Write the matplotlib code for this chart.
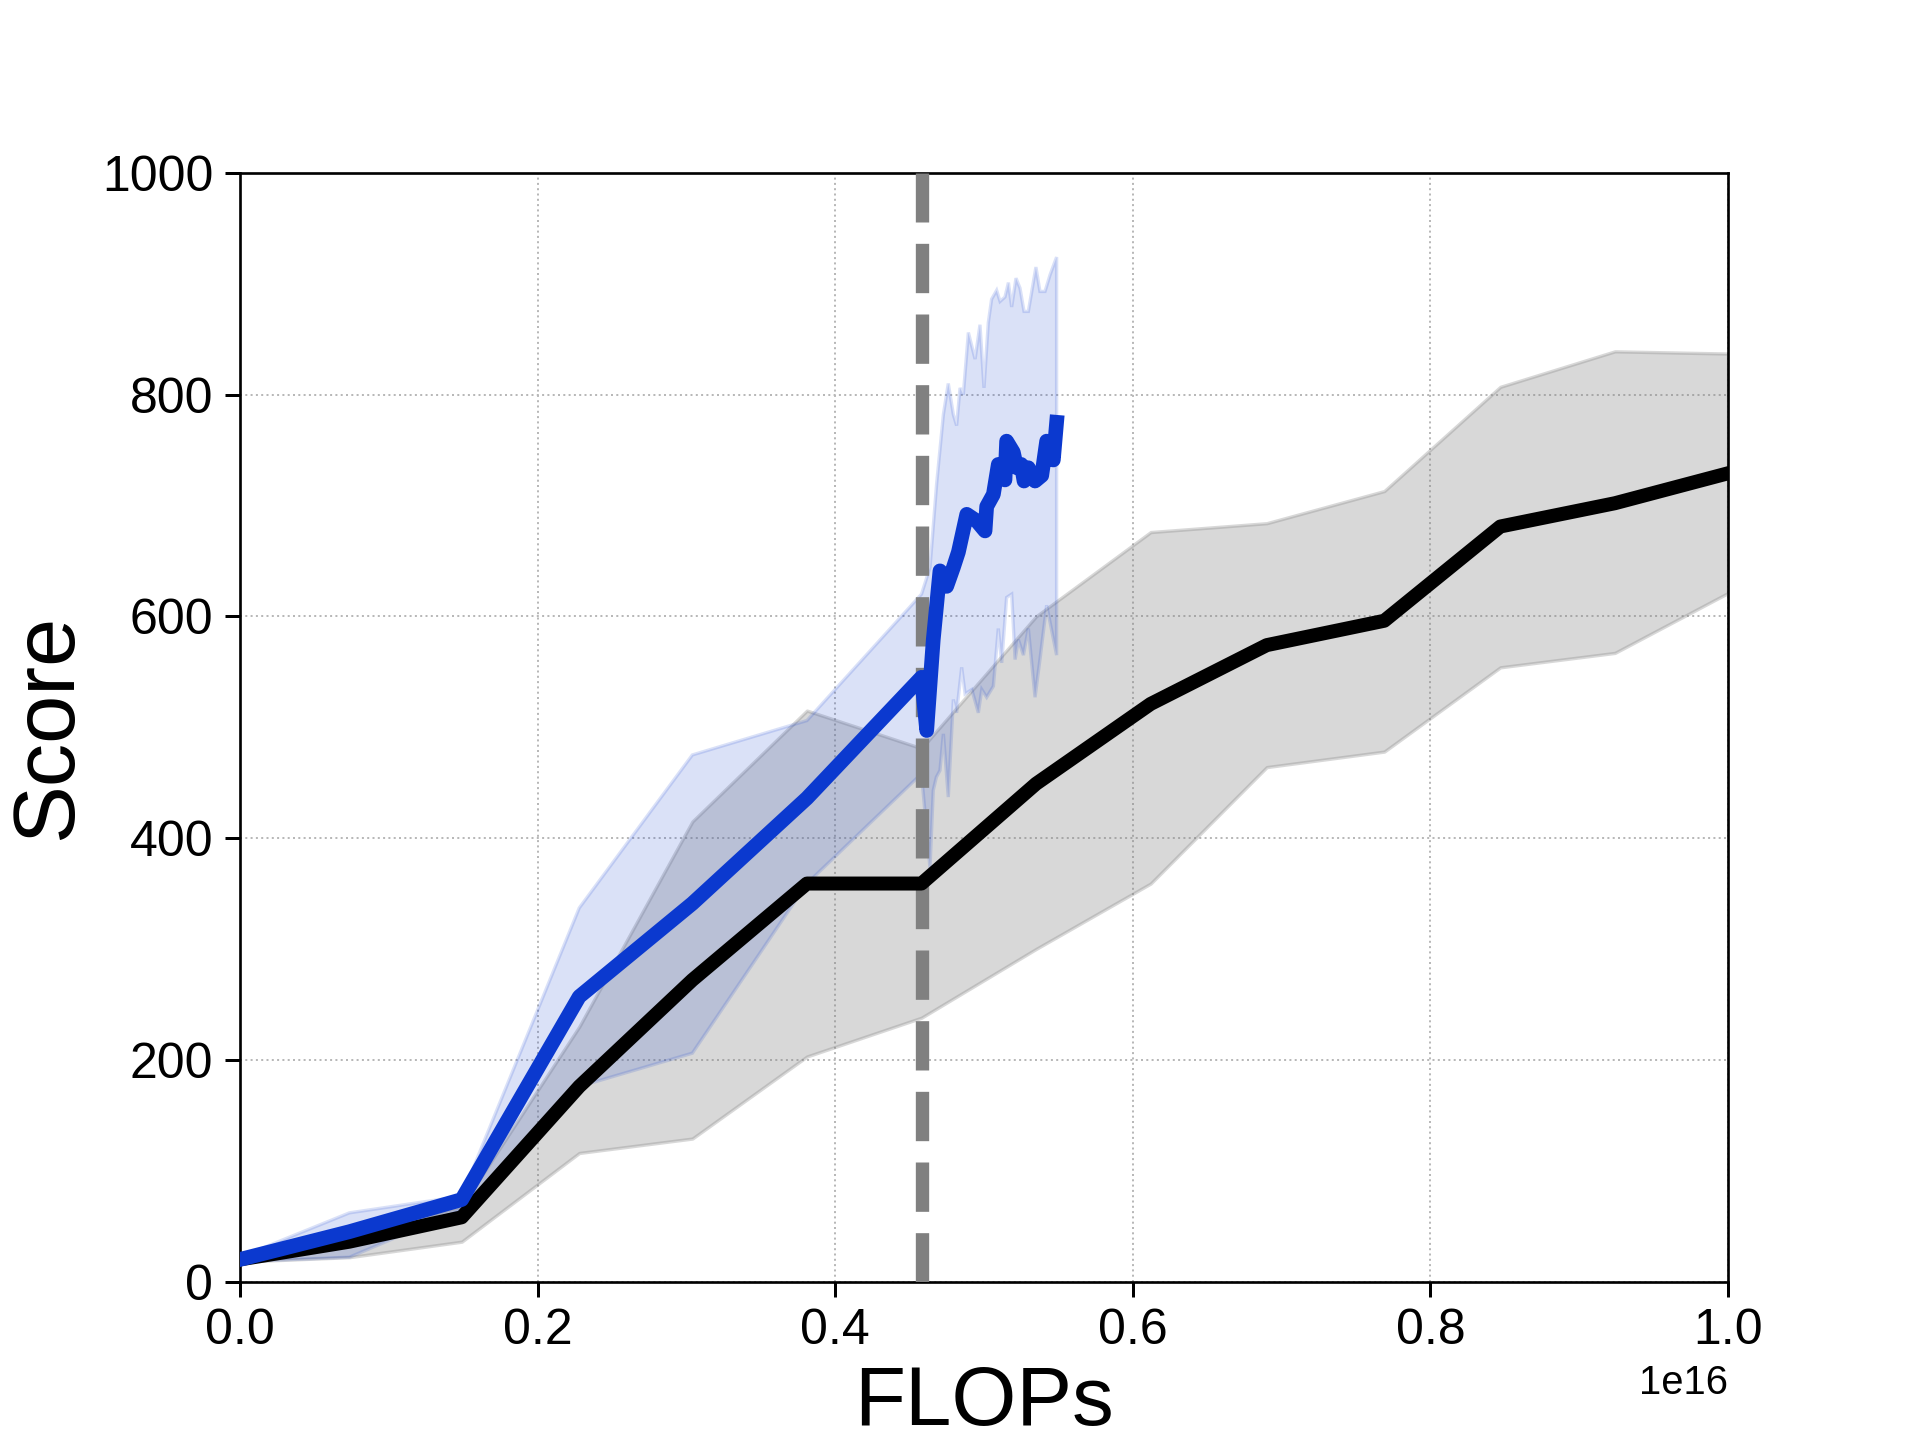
import numpy as np
import matplotlib
matplotlib.use("Agg")
import matplotlib.pyplot as plt

plt.rcParams['font.family'] = ['Liberation Sans', 'DejaVu Sans']

# ---- data (x in units of 1e16 FLOPs) ----
flops = [0.0, 0.0735, 0.149, 0.228, 0.304, 0.381, 0.458, 0.535, 0.612, 0.690, 0.769, 0.847, 0.924, 1.0]
base_mean = [20, 36, 58, 176, 272, 359, 359, 449, 521, 574, 596, 681, 702, 729]
base_upper = [22, 40, 68, 230, 415, 515, 481, 600, 676, 684, 713, 807, 839, 837]
base_lower = [18, 22, 36, 116, 129, 203, 238, 300, 359, 464, 478, 554, 567, 621]

blue_x = [0.0, 0.0735, 0.149, 0.228, 0.304, 0.381, 0.458, 0.4615, 0.4659, 0.4704, 0.4749,
          0.4794, 0.4828, 0.4884, 0.4951, 0.5007, 0.5018, 0.5063, 0.5096, 0.5141, 0.5152,
          0.5197, 0.522, 0.525, 0.5269, 0.5298, 0.5343, 0.5388, 0.5421, 0.5466, 0.5488]
blue_mean = [20, 45, 74, 257, 341, 436, 545, 497, 579, 641, 627,
             644, 658, 692, 686, 677, 699, 710, 737, 723, 758,
             748, 734, 737, 722, 734, 722, 727, 758, 741, 775]

blue_up_x = [0.0, 0.0735, 0.149, 0.228, 0.304, 0.381, 0.458, 0.4637, 0.4682, 0.4727, 0.4760,
             0.4794, 0.4816, 0.4839, 0.4861, 0.4895, 0.4940, 0.4973, 0.5000, 0.5029, 0.5051,
             0.5085, 0.5108, 0.5141, 0.5164, 0.5186, 0.5215, 0.5242, 0.5269, 0.5298, 0.5349,
             0.5376, 0.5410, 0.5444, 0.5488]
blue_upper = [22, 62, 77, 337, 475, 506, 620, 644, 720, 782, 810,
              782, 772, 806, 800, 856, 832, 863, 806, 865, 886,
              894, 884, 888, 901, 879, 905, 896, 875, 875, 915,
              893, 893, 908, 924]

blue_lo_x = [0.0, 0.0735, 0.149, 0.228, 0.304, 0.381, 0.458, 0.4637, 0.4659, 0.468, 0.4704,
             0.4727, 0.476, 0.4794, 0.4816, 0.485, 0.4873, 0.4918, 0.4962, 0.4985, 0.5018,
             0.5063, 0.5096, 0.5119, 0.5152, 0.5186, 0.5209, 0.5231, 0.5265, 0.5298, 0.5343,
             0.5376, 0.5421, 0.5488]
blue_lower = [18, 22, 65, 176, 206, 359, 458, 373, 443, 455, 461,
              494, 437, 525, 513, 554, 530, 534, 513, 534, 527,
              537, 589, 558, 617, 620, 561, 579, 565, 589, 527,
              561, 610, 565]

switch_x = 0.458
SCALE = 1e16
BLUE = '#0b39cf'

fig, ax = plt.subplots(figsize=(8, 6), dpi=240)

fx = np.array(flops) * SCALE
ax.fill_between(fx, base_lower, base_upper, color='gray', alpha=0.3, lw=1.0, zorder=1)

poly_x = np.concatenate([np.array(blue_up_x), np.array(blue_lo_x)[::-1]]) * SCALE
poly_y = np.concatenate([blue_upper, blue_lower[::-1]])
ax.fill(poly_x, poly_y, facecolor=BLUE, edgecolor=BLUE, alpha=0.15, lw=1.0, zorder=2)

ax.axvline(switch_x * SCALE, color='gray', ls='--', lw=4.0, zorder=3)
ax.plot(fx, base_mean, color='black', lw=4.2, zorder=4)
ax.plot(np.array(blue_x) * SCALE, blue_mean, color=BLUE, lw=4.4, zorder=5)

ax.set_xlim(0, 1.0 * SCALE)
ax.set_ylim(0, 1000)
ax.set_xticks(np.arange(0, 1.01, 0.2) * SCALE)
ax.set_yticks([0, 200, 400, 600, 800, 1000])
ax.grid(True, color='#b8b8b8', ls=':', lw=0.6)
ax.set_axisbelow(True)
ax.tick_params(axis='both', labelsize=15, length=4.5, width=0.9)
ax.xaxis.get_offset_text().set_fontsize(12)
ax.set_xlabel('FLOPs', fontsize=25, labelpad=3)
ax.set_ylabel('Score', fontsize=26)

fig.savefig('out.png', dpi=240)
